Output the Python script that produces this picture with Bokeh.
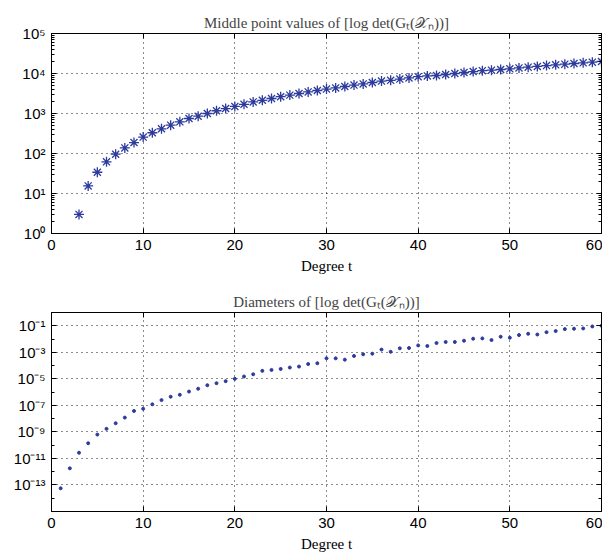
from bokeh.plotting import figure
from bokeh.layouts import column
from bokeh.models import FixedTicker, LogAxis, LinearAxis, CustomJSTickFormatter, Range1d
from bokeh.embed import file_html
from bokeh.resources import INLINE

# ---- data ----
t_mid = list(range(3, 61))
mid_vals = [3.0, 15.5, 34, 62, 96, 138, 188, 257, 330, 415, 510, 620, 750, 855, 1000,
            1170, 1330, 1500, 1700, 1950, 2140, 2370, 2630, 2880, 3160, 3470, 3760, 4070,
            4370, 4730, 5130, 5500, 5960, 6460, 6760, 7240, 7760, 8320, 8710, 8910, 9440,
            10000, 10600, 11200, 11750, 12100, 12600, 13100, 13800, 14400, 15000, 15800,
            16500, 17100, 17800, 18500, 19200, 20000]

t_diam = list(range(1, 61))
diam_vals = [5.6e-14, 1.8e-12, 2.7e-11, 1.4e-10, 6.3e-10, 1.7e-9, 4.5e-9, 1.2e-8, 3.8e-8, 5.6e-8,
             1.2e-7, 2.5e-7, 4.5e-7, 6.3e-7, 1.1e-6, 1.8e-6, 3.3e-6, 4.7e-6, 6.7e-6, 1.0e-5,
             1.5e-5, 2.2e-5, 4.0e-5, 4.7e-5, 5.6e-5, 7.1e-5, 8.4e-5, 1.3e-4, 1.5e-4, 3.5e-4,
             3.5e-4, 2.8e-4, 5.3e-4, 7.1e-4, 7.9e-4, 1.6e-3, 1.1e-3, 2.0e-3, 2.1e-3, 3.3e-3,
             3.0e-3, 5.0e-3, 6.0e-3, 6.0e-3, 7.5e-3, 1.06e-2, 1.12e-2, 8.4e-3, 1.5e-2, 1.26e-2,
             2.0e-2, 2.5e-2, 2.2e-2, 3.3e-2, 4.0e-2, 5.6e-2, 6.0e-2, 6.3e-2, 8.9e-2, 0.1]

x_ticks = [0, 10, 20, 30, 40, 50, 60]
top_yticks = [1e0, 1e1, 1e2, 1e3, 1e4, 1e5]
bot_yticks = [1e-13, 1e-11, 1e-9, 1e-7, 1e-5, 1e-3, 1e-1]

title_top = "Middle point values of [log det(G\u209c(\U0001D4B3\u2099))]"
title_bot = "Diameters of [log det(G\u209c(\U0001D4B3\u2099))]"
xlabel = "Degree t"

COLOR = "#2c3b9c"
SERIF = "Liberation Serif"
SANS = "Liberation Sans"

sup_code = """
const sup = {'-':'\u207b','0':'\u2070','1':'\u00b9','2':'\u00b2','3':'\u00b3','4':'\u2074',
             '5':'\u2075','6':'\u2076','7':'\u2077','8':'\u2078','9':'\u2079'};
const e = Math.round(Math.log10(tick));
return '10' + String(e).split('').map(c => sup[c]).join('');
"""


def style(p, yticks, yminor):
    p.outline_line_color = "black"
    p.outline_line_width = 1
    p.title.text_font = SERIF
    p.title.text_font_size = "15px"
    p.title.text_font_style = "normal"
    p.title.align = "center"
    p.title.standoff = 6
    xt = FixedTicker(ticks=x_ticks, minor_ticks=[])
    yt = FixedTicker(ticks=yticks, minor_ticks=yminor)
    for ax in p.xaxis:
        ax.ticker = xt
    for ax in p.yaxis:
        ax.ticker = yt
        ax.formatter = CustomJSTickFormatter(code=sup_code)
    for ax in list(p.xaxis) + list(p.yaxis):
        ax.axis_line_color = "black"
        ax.major_tick_in = 5
        ax.major_tick_out = 0
        ax.minor_tick_in = 3
        ax.minor_tick_out = 0
        ax.major_tick_line_color = "black"
        ax.minor_tick_line_color = "black"
        ax.major_label_text_font = SANS
        ax.major_label_text_font_size = "15px"
        ax.major_label_text_color = "black"
        ax.axis_label_text_font = SERIF
        ax.axis_label_text_font_size = "15px"
        ax.axis_label_text_font_style = "normal"
        ax.axis_label_text_color = "black"
    p.xaxis[0].axis_label = xlabel
    p.xaxis[0].major_label_standoff = 6
    p.xaxis[0].axis_label_standoff = 5
    p.yaxis[0].major_label_standoff = 6
    # mirrored box ticks (MATLAB style)
    top = LinearAxis(ticker=xt, major_label_text_font_size="1px", major_label_text_alpha=0,
                     major_label_standoff=0, major_tick_in=5, major_tick_out=0,
                     axis_line_color="black")
    right = LogAxis(ticker=yt, major_label_text_font_size="1px", major_label_text_alpha=0,
                    major_label_standoff=0, major_tick_in=5, major_tick_out=0,
                    minor_tick_in=3, minor_tick_out=0, axis_line_color="black")
    p.add_layout(top, "above")
    p.add_layout(right, "right")
    for g in (p.xgrid, p.ygrid):
        g.grid_line_color = "black"
        g.grid_line_alpha = 0.9
        g.grid_line_dash = "1 4"
        g.grid_line_width = 1
        g.minor_grid_line_color = None
    p.ygrid.ticker = yt
    p.xgrid.ticker = xt


top_minor = [m * 10 ** k for k in range(0, 5) for m in range(2, 10)]
bot_minor = [10.0 ** k for k in range(-14, 0, 2)]

p1 = figure(width=602, height=280, x_range=Range1d(0, 60), y_range=Range1d(1, 1e5),
            y_axis_type="log", output_backend="svg", toolbar_location=None,
            title=title_top, min_border_left=51, min_border_right=1,
            min_border_top=33, min_border_bottom=47)
style(p1, top_yticks, top_minor)
p1.scatter(t_mid, mid_vals, marker="asterisk", size=10, line_color=COLOR, line_width=1.3)

p2 = figure(width=602, height=274, x_range=Range1d(0, 60), y_range=Range1d(1e-15, 1e0),
            y_axis_type="log", output_backend="svg", toolbar_location=None,
            title=title_bot, min_border_left=51, min_border_right=1,
            min_border_top=32, min_border_bottom=42)
style(p2, bot_yticks, bot_minor)
p2.scatter(t_diam, diam_vals, marker="circle", size=3, fill_color=COLOR, line_color=COLOR)

layout = column(p1, p2, spacing=0)
open("out.html", "w").write(file_html(layout, INLINE))
